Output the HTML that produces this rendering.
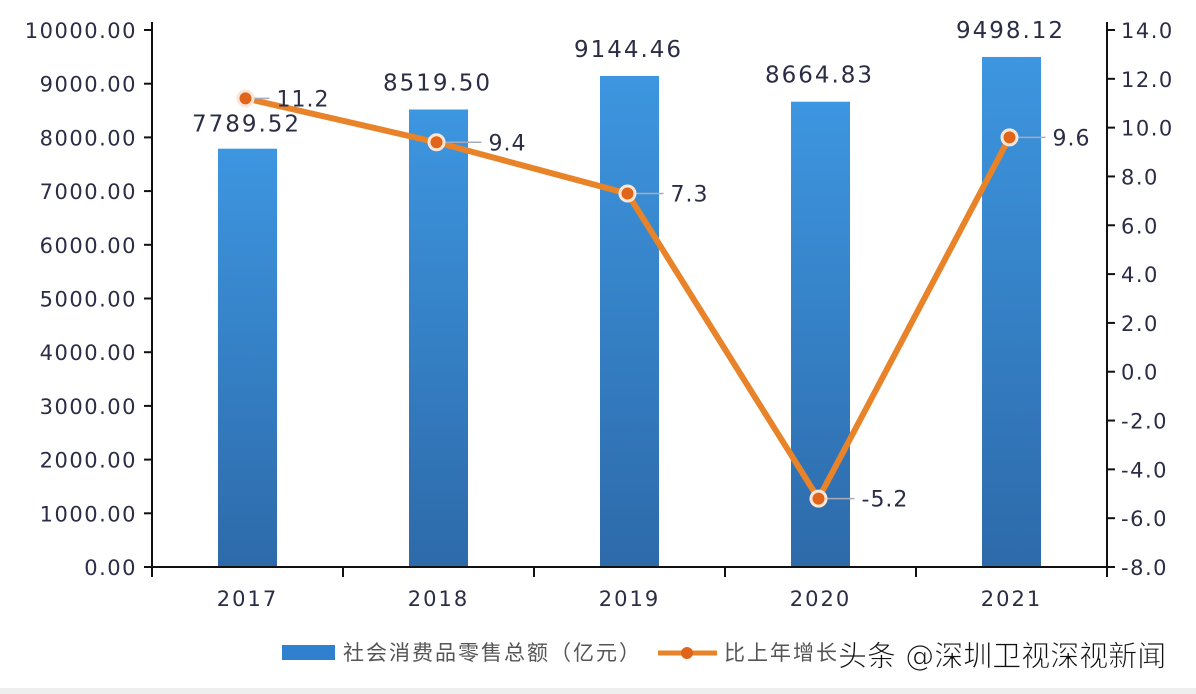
<!DOCTYPE html>
<html><head><meta charset="utf-8"><style>
body{margin:0;background:#fff;}
svg{display:block;font-family:"DejaVu Sans","Liberation Sans","Noto Sans CJK SC",sans-serif;}
</style></head><body>
<svg id="chart" width="1196" height="694" viewBox="0 0 1196 694" xmlns="http://www.w3.org/2000/svg">
<defs>
<linearGradient id="barGrad" x1="0" y1="0" x2="0" y2="1">
<stop offset="0" stop-color="#3d96e0"/><stop offset="1" stop-color="#2d6aaa"/>
</linearGradient>
</defs>
<rect x="0" y="0" width="1196" height="694" fill="#fff"/>
<rect x="0" y="688" width="1196" height="6" fill="#eeeeee"/>
<g id="bars"></g>
<g id="axes"></g>
<g id="line"></g>
<g id="legend">
<rect x="282" y="645" width="53" height="15" fill="#3080d0"/>
<text x="343" y="660" font-size="21" letter-spacing="2" fill="#555">社会消费品零售总额（亿元）</text>
<line x1="658" y1="653" x2="717" y2="653" stroke="#e8832a" stroke-width="5"/>
<circle cx="687" cy="653" r="6" fill="#e0651a"/>
<text x="724" y="660" font-size="21" letter-spacing="2" fill="#555">比上年增长</text>
<text x="838" y="666" font-size="29" fill="#111" stroke="#fff" stroke-width="0.8">头条 @深圳卫视深视新闻</text>
</g>
</svg>
<script>
const categories=["2017","2018","2019","2020","2021"];
const salesValues=[7789.52,8519.50,9144.46,8664.83,9498.12];
const growthValues=[11.2,9.4,7.3,-5.2,9.6];
const leftTicks=[0,1000,2000,3000,4000,5000,6000,7000,8000,9000,10000];
const rightTicks=[-8,-6,-4,-2,0,2,4,6,8,10,12,14];
const NS="http://www.w3.org/2000/svg";
const X0=152,X1=1107,YB=567,YT=30;
const bw=(X1-X0)/categories.length;
const xC=i=>X0+bw*(i+0.5);
const yL=v=>YB-(v/10000)*(YB-YT);
const yR=v=>YB-((v+8)/22)*(YB-YT);
function mk(tag,attrs,parent){const e=document.createElementNS(NS,tag);for(const k in attrs)e.setAttribute(k,attrs[k]);parent.appendChild(e);return e;}
const bars=document.getElementById('bars'),axes=document.getElementById('axes'),line=document.getElementById('line');
const txt="#2a2d45";
salesValues.forEach((v,i)=>{
 const r=mk('rect',{x:xC(i)-29.5,y:yL(v),width:59,height:YB-yL(v),fill:'url(#barGrad)'},bars);
 
 
 const t=mk('text',{x:xC(i)-1,y:yL(v)-19,'font-size':23,'letter-spacing':2,'text-anchor':'middle',fill:txt},bars);
 t.textContent=v.toFixed(2);
 
 
});
bars.children[1].setAttribute('y',yL(salesValues[0])-17);
mk('line',{x1:X0,y1:YT-8,x2:X0,y2:YB,stroke:'#111','stroke-width':2},axes);
mk('line',{x1:X1,y1:YT-8,x2:X1,y2:YB+10,stroke:'#111','stroke-width':2},axes);
const xa=mk('line',{x1:X0-6,y1:YB,x2:X1,y2:YB,stroke:'#111','stroke-width':2},axes);

leftTicks.forEach(v=>{
 mk('line',{x1:X0-8,y1:yL(v),x2:X0,y2:yL(v),stroke:'#111','stroke-width':2},axes);
 const t=mk('text',{x:X0-15,y:yL(v)+8,'font-size':21,'letter-spacing':1.5,'text-anchor':'end',fill:txt},axes);
 t.textContent=v.toFixed(2);
 
 
});
rightTicks.forEach(v=>{
 mk('line',{x1:X1,y1:yR(v),x2:X1+8,y2:yR(v),stroke:'#111','stroke-width':2},axes);
 const t=mk('text',{x:X1+14,y:yR(v)+8,'font-size':21,'letter-spacing':1.5,fill:txt},axes);
 t.textContent=v.toFixed(1);
 
 
});
for(let i=0;i<=categories.length;i++){
 mk('line',{x1:X0+bw*i,y1:YB,x2:X0+bw*i,y2:YB+10,stroke:'#111','stroke-width':2},axes);
}
categories.forEach((c,i)=>{
 const t=mk('text',{x:xC(i),y:YB+39,'font-size':21,'letter-spacing':2,'text-anchor':'middle',fill:txt},axes);
 t.textContent=c;
 
 
});
const pts=growthValues.map((v,i)=>[xC(i)-2,yR(v)]);
const pl=mk('polyline',{points:pts.map(p=>p.join(',')).join(' '),fill:'none',stroke:'#e8832a','stroke-width':6,'stroke-linejoin':'round'},line);


growthValues.forEach((v,i)=>{
 const [x,y]=pts[i];
 const off=i===0?31:(i===1?52:43);
 mk('line',{x1:x,y1:y,x2:x+off-7,y2:y,stroke:'#aab','stroke-width':1.5},line);
 const c=mk('circle',{cx:x,cy:y,r:7.5,fill:'#e0651a',stroke:'#fbe6d6','stroke-width':3},line);
 
 
 const t=mk('text',{x:x+off,y:y+8,'font-size':22,'letter-spacing':1,fill:txt},line);
 t.textContent=v.toFixed(1);
 
 
});
</script>
</body></html>
